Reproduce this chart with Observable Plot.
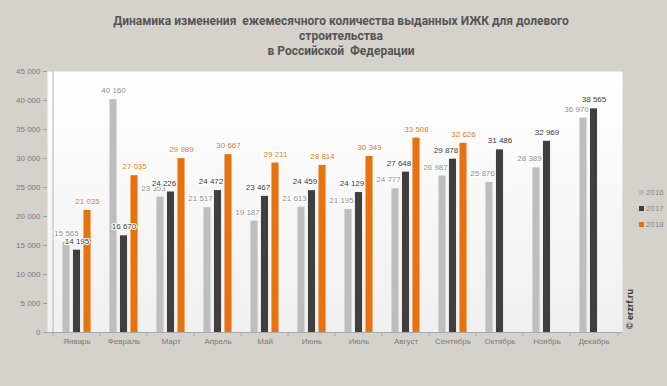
<!DOCTYPE html>
<html><head><meta charset="utf-8">
<script src="https://cdn.jsdelivr.net/npm/d3@7"></script>
<script src="https://cdn.jsdelivr.net/npm/@observablehq/plot@0.6"></script>
<style>
html,body{margin:0;padding:0;background:#d5d2cb;}
#wrap{position:relative;width:667px;height:386px;overflow:hidden;background:#d5d2cb;font-family:"Liberation Sans",Arial,sans-serif;}
#title{position:absolute;left:0;top:14px;width:682px;text-align:center;font-family:Roboto,"Liberation Sans",sans-serif;font-weight:bold;font-size:12px;color:#555;line-height:15px;}
#title div{white-space:pre;}
#chart{position:absolute;left:0;top:60px;}
#legend{position:absolute;left:639px;top:184px;font-size:8px;color:#8a8a8a;}
#legend .row{height:16px;display:flex;align-items:center;}
#legend .sw{width:5px;height:5px;margin-right:2px;}
#wm{position:absolute;left:630px;top:309px;transform:translate(-50%,-50%) rotate(-90deg);font-weight:bold;font-size:9px;color:#333;white-space:nowrap;}
</style></head><body>
<div id="wrap">
<div id="title"></div>
<div id="chart"></div>
<div id="legend"></div>
<div id="wm">© erzrf.ru</div>
</div>
<script>
const titleLines = ["Динамика изменения  ежемесячного количества выданных ИЖК для долевого", "строительства", "в Российской  Федерации"];
const months = ["Январь","Февраль","Март","Апрель","Май","Июнь","Июль","Август","Сентябрь","Октябрь","Ноябрь","Декабрь"];
const years = ["2016","2017","2018"];
const v2016 = [15565, 40160, 23353, 21517, 19187, 21613, 21195, 24777, 26987, 25876, 28389, 36970];
const v2017 = [14195, 16670, 24226, 24472, 23467, 24459, 24129, 27648, 29878, 31486, 32969, 38565];
const v2018 = [21035, 27035, 29989, 30667, 29211, 28814, 30349, 33508, 32626];
const yTicks = [0, 5000, 10000, 15000, 20000, 25000, 30000, 35000, 40000, 45000];

const series = {"2016": v2016, "2017": v2017, "2018": v2018};
const data = [];
years.forEach(y => series[y].forEach((v, i) => data.push({month: months[i], i, year: y, value: v})));

const fmt = d3.formatLocale({decimal: ",", thousands: " ", grouping: [3], currency: ["", ""]}).format(",d");

document.getElementById("title").innerHTML = titleLines.map(t => `<div>${t}</div>`).join("");

const W = 667, H = 326, mL = 47, mR = 45, mT = 11, mB = 54;
const bw = (W - mL - mR) / months.length;
const barW = 8, step = 10.5, inset = (bw - barW) / 2;
const offs = {"2016": -step, "2017": 0, "2018": step};
const barColors = {"2016": "#bebebe", "2017": "#3f3f3f", "2018": "#e8730e"};
const labelColors = {"2016": "#8f8f8f", "2017": "#3a3a3a", "2018": "#e37a25"};

// label placement: from March, the 2016 label (and 2017 when a 2018 bar follows) sits left of centre
const shifted = d => d.i >= 2 && (d.year === "2016" || (d.year === "2017" && series["2018"][d.i] !== undefined));

const marks = [
  Plot.frame({fill: "url(#bgGrad)"}),
  Plot.ruleX([months[0]], {x: d => d, y1: 0, y2: 45000, dx: -bw / 2, stroke: "#b5b5b5"}),
  Plot.axisY({ticks: yTicks, tickSize: 4, tickPadding: 3, tickFormat: fmt, stroke: "#a0a0a0", fill: "#7a7a7a", fontSize: 8, label: null}),
  Plot.axisX({tickSize: 0, tickPadding: 6, fill: "#7a7a7a", fontSize: 8, label: null}),
  Plot.ruleX(months, {x: d => d, y1: 0, y2: 0, dx: -bw / 2, insetBottom: -4, stroke: "#aaa"}),
  Plot.ruleX([months[months.length - 1]], {x: d => d, y1: 0, y2: 0, dx: bw / 2, insetBottom: -4, stroke: "#aaa"}),
];
years.forEach(y => {
  marks.push(Plot.barY(data.filter(d => d.year === y), {x: "month", y: "value", fill: barColors[y], dx: offs[y], insetLeft: inset, insetRight: inset}));
});
marks.push(Plot.ruleY([0], {stroke: "#a9a9a9"}));
years.forEach(y => {
  const sub = data.filter(d => d.year === y);
  const common = {x: "month", y: "value", text: d => fmt(d.value), dy: -9, fill: labelColors[y], stroke: "white", strokeWidth: 2, fontSize: 8, lineAnchor: "middle"};
  marks.push(Plot.text(sub.filter(d => !shifted(d)), {...common, dx: offs[y]}));
  marks.push(Plot.text(sub.filter(d => shifted(d)), {...common, dx: offs[y] - 7}));
});

const chart = Plot.plot({
  width: W, height: H,
  marginLeft: mL, marginRight: mR, marginTop: mT, marginBottom: mB,
  x: {type: "band", domain: months, padding: 0},
  y: {domain: [0, 45000]},
  style: {background: "transparent", fontFamily: "'Liberation Sans', Arial, sans-serif", fontSize: "8px", color: "#7a7a7a"},
  marks
});
const ns = "http://www.w3.org/2000/svg";
const defs = document.createElementNS(ns, "defs");
defs.innerHTML = '<linearGradient id="bgGrad" x1="0" y1="0" x2="0" y2="1"><stop offset="0" stop-color="#ffffff"/><stop offset="1" stop-color="#f0f0f0"/></linearGradient>';
chart.insertBefore(defs, chart.firstChild);
document.getElementById("chart").appendChild(chart);

document.getElementById("legend").innerHTML = years.map(y =>
  `<div class="row"><div class="sw" style="background:${barColors[y]}"></div><span>${y}</span></div>`).join("");
</script>
</body></html>
